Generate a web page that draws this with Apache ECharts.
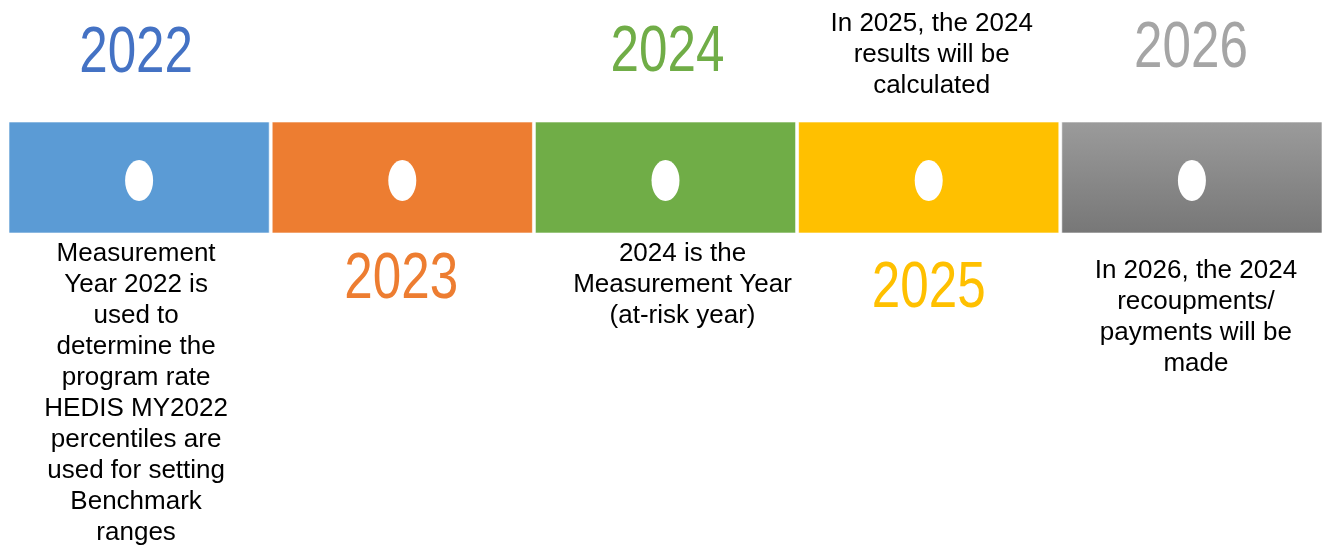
<!DOCTYPE html>
<html>
<head>
<meta charset="utf-8">
<script src="https://cdn.jsdelivr.net/npm/echarts@6/dist/echarts.min.js"></script>
<style>
html, body { margin: 0; padding: 0; background: #fff; }
#chart { width: 1325px; height: 545px; }
</style>
</head>
<body>
<div id="chart"></div>
<script>
//== timeline data
var years = ['2022', '2023', '2024', '2025', '2026'];
var notes = [
    'Measurement\nYear 2022 is\nused to\ndetermine the\nprogram rate\nHEDIS MY2022\npercentiles are\nused for setting\nBenchmark\nranges',
    '',
    '2024 is the\nMeasurement Year\n(at-risk year)',
    'In 2025, the 2024\nresults will be\ncalculated',
    'In 2026, the 2024\nrecoupments/\npayments will be\nmade'
];

//== styles / layout tweaks
var boxColors = ['#5B9BD5', '#ED7D31', '#70AD47', '#FFC000', null];
var yearColors = ['#4472C4', '#ED7D31', '#70AD47', '#FFC000', '#A5A5A5'];
var yearCenters = [54, 280, 53, 289, 49];
var yearShift = [-3, -1, 2, 0, -1];
var noteTops = [238, 0, 238, 8, 255];
var noteShift = [-3, 0, 17, 3, 4];

var timeline = function () {
    var renderItem = function (params, api) {
        var i = api.value(0);
        var start = api.coord([i, 0]);
        var end = api.coord([i + 1, 0]);
        var top = api.coord([0, 122])[1];
        var bottom = api.coord([0, 233])[1];
        var x0 = start[0];
        var w = end[0] - start[0] - 3;
        var cx = x0 + w / 2;
        var fill = boxColors[i] || new echarts.graphic.LinearGradient(0, 0, 0, 1, [
            {offset: 0, color: '#9b9b9b'},
            {offset: 1, color: '#777777'}
        ]);
        var children = [{
            type: 'rect',
            shape: {x: x0, y: top, width: w, height: bottom - top},
            style: {fill: fill, stroke: 'rgba(255,255,255,0.6)', lineWidth: 1}
        }, {
            type: 'ellipse',
            shape: {cx: cx, cy: 180.5, rx: 14, ry: 20.5},
            style: {fill: '#ffffff'}
        }, {
            type: 'text',
            x: cx + yearShift[i],
            y: yearCenters[i],
            scaleX: 0.8,
            style: {
                text: years[i],
                x: 0,
                y: 0,
                align: 'center',
                verticalAlign: 'middle',
                fontSize: 64,
                fontFamily: '"Liberation Sans", Arial, sans-serif',
                fill: yearColors[i]
            }
        }];
        if (notes[i]) {
            children.push({
                type: 'text',
                style: {
                    text: notes[i],
                    x: cx + noteShift[i],
                    y: noteTops[i],
                    align: 'center',
                    verticalAlign: 'top',
                    fontSize: 26,
                    lineHeight: 31,
                    fontFamily: '"Liberation Sans", Arial, sans-serif',
                    fill: '#000000'
                }
            });
        }
        return {type: 'group', children: children};
    };

    var initChart = function (selector) {
        var myChart = echarts.init(document.querySelector(selector));
        var option = {
            animation: false,
            grid: {left: 9, right: -6, top: 0, bottom: 0},
            xAxis: {type: 'value', min: 0, max: years.length, show: false},
            yAxis: {type: 'value', min: 0, max: 545, inverse: true, show: false},
            series: [{
                type: 'custom',
                renderItem: renderItem,
                data: years.map(function (y, i) { return [i, i + 1]; })
            }]
        };
        myChart.setOption(option, true);
    };

    return {
        init: function () {
            initChart('#chart');
        }
    };
}();

timeline.init();
</script>
</body>
</html>
